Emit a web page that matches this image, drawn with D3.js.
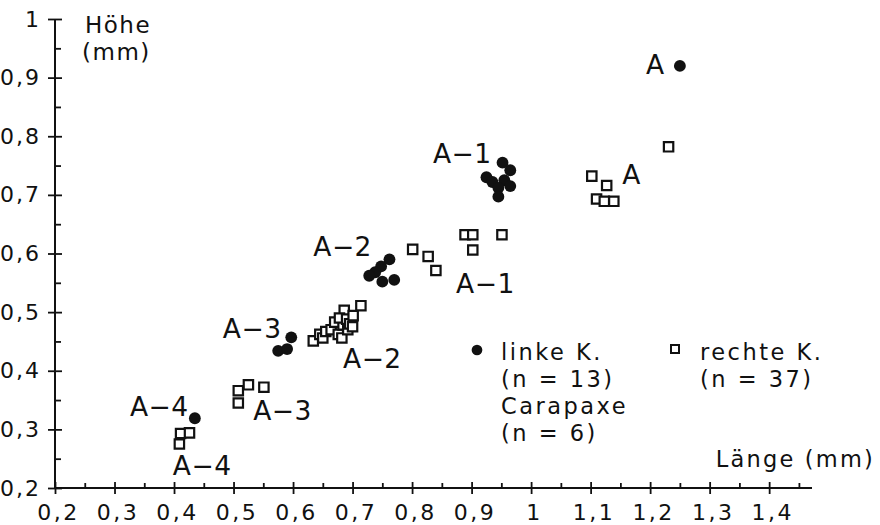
<!DOCTYPE html>
<html>
<head>
<meta charset="utf-8">
<script src="https://cdn.jsdelivr.net/npm/d3@7"></script>
<style>
  html, body { margin: 0; padding: 0; background: #fff; }
  svg text { font-family: "DejaVu Sans", sans-serif; fill: #111; }
</style>
</head>
<body>
<svg id="chart" width="880" height="525"></svg>
<script>
// ---- data ----
const xTicks = [0.2, 0.3, 0.4, 0.5, 0.6, 0.7, 0.8, 0.9, 1.0, 1.1, 1.2, 1.3, 1.4];
const xTickLabels = ["0,2", "0,3", "0,4", "0,5", "0,6", "0,7", "0,8", "0,9", "1", "1,1", "1,2", "1,3", "1,4"];
const xMinor = [0.25, 0.35, 0.45, 0.55, 0.65, 0.75, 0.85, 0.95, 1.05, 1.15, 1.25, 1.35, 1.45];
const yTicks = [0.2, 0.3, 0.4, 0.5, 0.6, 0.7, 0.8, 0.9, 1.0];
const yTickLabels = ["0,2", "0,3", "0,4", "0,5", "0,6", "0,7", "0,8", "0,9", "1"];
const yMinor = [0.25, 0.35, 0.45, 0.55, 0.65, 0.75, 0.85, 0.95];

// linke Klappen + Carapaxe (filled) : [Länge, Höhe]
const linkeLaenge = [1.25,
  0.952, 0.965, 0.925, 0.935, 0.955, 0.965, 0.945, 0.945,
  0.762, 0.748, 0.738, 0.728, 0.750, 0.770,
  0.597, 0.575, 0.590,
  0.435];
const linkeHoehe = [0.920,
  0.755, 0.742, 0.730, 0.722, 0.725, 0.715, 0.712, 0.697,
  0.590, 0.578, 0.568, 0.562, 0.552, 0.555,
  0.457, 0.434, 0.437,
  0.319];

// rechte Klappen (open squares)
const rechteLaenge = [1.231, 1.102, 1.127, 1.110, 1.123, 1.139,
  0.801, 0.827, 0.840, 0.889, 0.902, 0.902, 0.951,
  0.634, 0.645, 0.650, 0.655, 0.664, 0.670, 0.676, 0.682, 0.684, 0.686, 0.678, 0.690, 0.692, 0.695, 0.700, 0.701, 0.714,
  0.508, 0.508, 0.525, 0.551,
  0.409, 0.411, 0.426];
const rechteHoehe = [0.782, 0.732, 0.716, 0.693, 0.689, 0.689,
  0.607, 0.595, 0.571, 0.632, 0.632, 0.606, 0.632,
  0.451, 0.462, 0.456, 0.467, 0.470, 0.483, 0.462, 0.456, 0.478, 0.503, 0.490, 0.488, 0.470, 0.480, 0.475, 0.494, 0.511,
  0.345, 0.366, 0.376, 0.372,
  0.275, 0.293, 0.294];

// stage annotations: text, Länge, Höhe (left / baseline)
const annoText = ["A", "A", "A\u22121", "A\u22121", "A\u22122", "A\u22122", "A\u22123", "A\u22123", "A\u22124", "A\u22124"];
const annoX = [1.193, 1.153, 0.835, 0.874, 0.634, 0.684, 0.482, 0.533, 0.326, 0.398];
const annoY = [0.9065, 0.719, 0.7546, 0.533, 0.596, 0.405, 0.456, 0.316, 0.323, 0.222];

// ---- chart ----
const svg = d3.select("#chart");
const x = d3.scaleLinear().domain([0.2, 1.472]).range([55, 812]);
const y = d3.scaleLinear().domain([0.2, 1.0]).range([488, 19]);

const fmtX = d => xTickLabels[xTicks.findIndex(t => Math.abs(t - d) < 1e-9)];
const fmtY = d => yTickLabels[yTicks.findIndex(t => Math.abs(t - d) < 1e-9)];

// x axis
const gx = svg.append("g").attr("transform", `translate(0,${y(0.2)})`);
gx.call(d3.axisBottom(x).tickValues(xTicks).tickFormat(fmtX).tickSize(6).tickPadding(9));
gx.selectAll(".tick line").attr("y1", -6).attr("y2", 6);
const gxm = svg.append("g").attr("transform", `translate(0,${y(0.2)})`);
gxm.call(d3.axisBottom(x).tickValues(xMinor).tickFormat("").tickSize(-5));
gxm.select(".domain").remove();

// y axis
const gy = svg.append("g").attr("transform", `translate(${x(0.2)},0)`);
gy.call(d3.axisLeft(y).tickValues(yTicks).tickFormat(fmtY).tickSize(7).tickPadding(9));
gy.selectAll(".tick line").attr("x1", -7).attr("x2", 7);
const gym = svg.append("g").attr("transform", `translate(${x(0.2)},0)`);
gym.call(d3.axisLeft(y).tickValues(yMinor).tickFormat("").tickSize(-6));
gym.select(".domain").remove();

svg.selectAll(".domain").attr("stroke", "#111").attr("stroke-width", 2);
svg.selectAll(".tick line").attr("stroke", "#111").attr("stroke-width", 1.8);
gx.selectAll(".tick text").attr("font-size", 22).attr("letter-spacing", 2.5)
  .attr("font-family", "DejaVu Sans").attr("fill", "#111").attr("dx", 3).attr("dy", "0.78em");
gy.selectAll(".tick text").attr("font-size", 22).attr("letter-spacing", 2)
  .attr("font-family", "DejaVu Sans").attr("fill", "#111").attr("dx", 2);
gx.select(".domain").attr("d", `M${x(0.2)},0H${x(1.472)}`);
gy.select(".domain").attr("d", `M0,${y(0.2)}V${y(1.0)}`);

// axis titles
svg.append("text").attr("x", 85).attr("y", 33).attr("font-size", 23).attr("letter-spacing", 1.5).text("Höhe");
svg.append("text").attr("x", 82).attr("y", 60).attr("font-size", 23).attr("letter-spacing", 1.5).text("(mm)");
svg.append("text").attr("x", 875).attr("y", 467).attr("text-anchor", "end").attr("font-size", 22.5).attr("letter-spacing", 2.2)
  .attr("xml:space", "preserve").text("Länge (mm)");

// squares (white fill so overlaps show as brackets)
const sq = rechteLaenge.map((v, i) => [v, rechteHoehe[i]]);
const sqSym = d3.symbol().type(d3.symbolSquare).size(88);
svg.append("g").selectAll("path").data(sq).join("path")
  .attr("d", sqSym)
  .attr("transform", d => `translate(${x(d[0])},${y(d[1])})`)
  .attr("fill", "#fff").attr("stroke", "#111").attr("stroke-width", 2.2);

// filled points
const fl = linkeLaenge.map((v, i) => [v, linkeHoehe[i]]);
const flSym = d3.symbol().type(d3.symbolCircle).size(110);
svg.append("g").selectAll("path").data(fl).join("path")
  .attr("d", flSym)
  .attr("transform", d => `translate(${x(d[0])},${y(d[1])})`)
  .attr("fill", "#111");

// annotations
svg.append("g").selectAll("text").data(annoText).join("text")
  .attr("x", (d, i) => x(annoX[i]))
  .attr("y", (d, i) => y(annoY[i]))
  .attr("font-size", 26.5).attr("letter-spacing", 0.5)
  .text(d => d);

// legend
const lg = svg.append("g");
lg.append("path").attr("d", d3.symbol().type(d3.symbolCircle).size(90)).attr("transform", "translate(477,350)")
  .attr("fill", "#111");
lg.append("path").attr("d", d3.symbol().type(d3.symbolSquare).size(64)).attr("transform", "translate(675,349)")
  .attr("fill", "#fff").attr("stroke", "#111").attr("stroke-width", 2);
const legLeft = ["linke K.", "(n = 13)", "Carapaxe", "(n = 6)"];
const legRight = ["rechte K.", "(n = 37)"];
legLeft.forEach((t, i) => lg.append("text").attr("x", 501).attr("y", 360 + i * 27)
  .attr("font-size", 22.5).attr("letter-spacing", 2.5).attr("xml:space", "preserve").text(t));
legRight.forEach((t, i) => lg.append("text").attr("x", 700).attr("y", 360 + i * 27)
  .attr("font-size", 22.5).attr("letter-spacing", 2.5).attr("xml:space", "preserve").text(t));
</script>
</body>
</html>
